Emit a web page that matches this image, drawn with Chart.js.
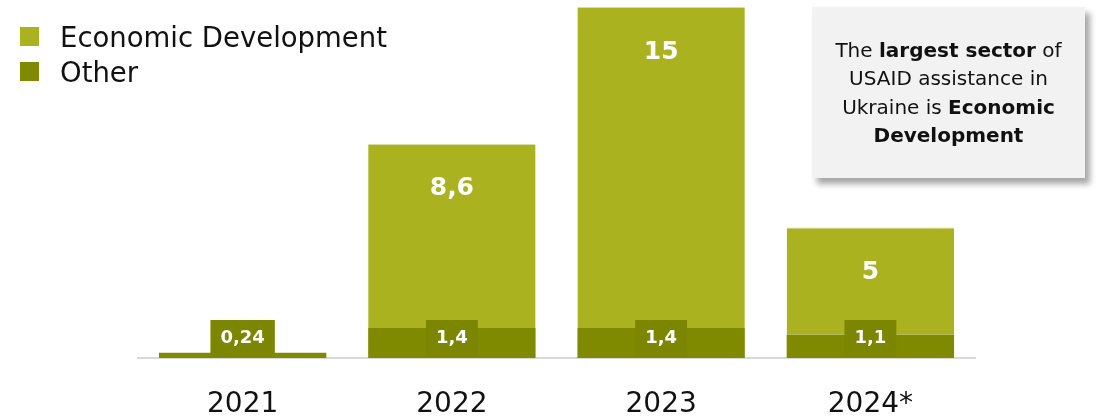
<!DOCTYPE html>
<html>
<head>
<meta charset="utf-8">
<script src="https://cdn.jsdelivr.net/npm/chart.js@4/dist/chart.umd.min.js"></script>
<style>
  html, body { margin: 0; padding: 0; background: #ffffff; }
  #wrap { position: relative; width: 1102px; height: 419px; overflow: hidden; }
  #c { position: absolute; left: 0; top: 0; }
  #legend { position: absolute; left: 20px; top: 19px; font-family: "DejaVu Sans", sans-serif; font-size: 27.5px; color: #111; }
  .lg-row { display: flex; align-items: center; height: 35px; }
  .lg-box { width: 19px; height: 19px; margin-right: 21px; }
  #note {
    position: absolute; left: 812px; top: 7px; width: 273px; height: 171px;
    background: #f2f2f2; box-shadow: 5px 6px 6px rgba(0,0,0,0.35);
    font-family: "DejaVu Sans", sans-serif; font-size: 20px; line-height: 28.5px; color: #111;
    display: flex; align-items: center; justify-content: center; text-align: center;
  }
</style>
</head>
<body>
<div id="wrap">
  <canvas id="c" width="1102" height="419"></canvas>
  <div id="legend"></div>
  <div id="note"><div>The <b>largest sector</b> of<br>USAID assistance in<br>Ukraine is <b>Economic<br>Development</b></div></div>
</div>
<script>
// Years and assistance by sector (billions USD)
const categories = ['2021', '2022', '2023', '2024*'];
const economicDevelopment = [0, 8.6, 15, 5];
const other = [0.24, 1.4, 1.4, 1.1];
const econLabels = ['', '8,6', '15', '5'];
const otherLabels = ['0,24', '1,4', '1,4', '1,1'];

const ECON_COLOR = '#aab31f';
const OTHER_COLOR = '#7f8a00';

// Legend (Economic Development listed first)
const legendItems = [
  { name: 'Economic Development', color: ECON_COLOR },
  { name: 'Other', color: OTHER_COLOR }
];
const legendEl = document.getElementById('legend');
legendItems.forEach(it => {
  const row = document.createElement('div');
  row.className = 'lg-row';
  const box = document.createElement('div');
  box.className = 'lg-box';
  box.style.background = it.color;
  const txt = document.createElement('span');
  txt.textContent = it.name;
  row.appendChild(box); row.appendChild(txt);
  legendEl.appendChild(row);
});

// Value labels: boxed labels on the "Other" segment, plain labels near the top of the bars
const valueLabels = {
  id: 'valueLabels',
  afterDatasetsDraw(chart) {
    const ctx = chart.ctx;
    const yScale = chart.scales.y;
    const base = yScale.getPixelForValue(0);
    const otherMeta = chart.getDatasetMeta(0);
    const econMeta = chart.getDatasetMeta(1);
    ctx.save();
    ctx.textAlign = 'center';
    ctx.textBaseline = 'middle';
    otherMeta.data.forEach((bar, i) => {
      const txt = otherLabels[i];
      ctx.font = 'bold 18px "DejaVu Sans", sans-serif';
      const w = ctx.measureText(txt).width + 20;
      const h = 37;
      ctx.fillStyle = '#7c8600';
      ctx.fillRect(bar.x - w / 2, base - h - 1, w, h);
      ctx.fillStyle = '#ffffff';
      ctx.fillText(txt, bar.x, base - h / 2 - 1);
    });
    econMeta.data.forEach((bar, i) => {
      const txt = econLabels[i];
      if (!txt || economicDevelopment[i] <= 0) return;
      ctx.font = 'bold 25px "DejaVu Sans", sans-serif';
      ctx.fillStyle = '#ffffff';
      ctx.fillText(txt, bar.x, bar.y + 45);
    });
    ctx.restore();
  }
};

new Chart(document.getElementById('c'), {
  type: 'bar',
  data: {
    labels: categories,
    datasets: [
      {
        label: 'Other',
        data: other,
        backgroundColor: OTHER_COLOR,
        borderWidth: 0,
        barPercentage: 0.8,
        categoryPercentage: 1.0
      },
      {
        label: 'Economic Development',
        data: economicDevelopment,
        backgroundColor: ECON_COLOR,
        borderColor: '#d9dca6',
        borderWidth: { top: 1, left: 0, right: 0, bottom: 0 },
        borderSkipped: 'bottom',
        barPercentage: 0.8,
        categoryPercentage: 1.0
      }
    ]
  },
  options: {
    responsive: false,
    animation: false,
    devicePixelRatio: 1,
    layout: { padding: { left: 138, right: 127, top: 7, bottom: -33 } },
    plugins: { legend: { display: false }, tooltip: { enabled: false } },
    scales: {
      x: {
        stacked: true,
        grid: { display: false, drawTicks: false },
        border: { display: true, color: '#d9d9d9', width: 2 },
        ticks: {
          color: '#111111',
          padding: 33,
          font: { family: '"DejaVu Sans", sans-serif', size: 28, lineHeight: 1 }
        }
      },
      y: {
        stacked: true,
        display: false,
        min: 0,
        max: 16.4
      }
    }
  },
  plugins: [valueLabels]
});
</script>
</body>
</html>
